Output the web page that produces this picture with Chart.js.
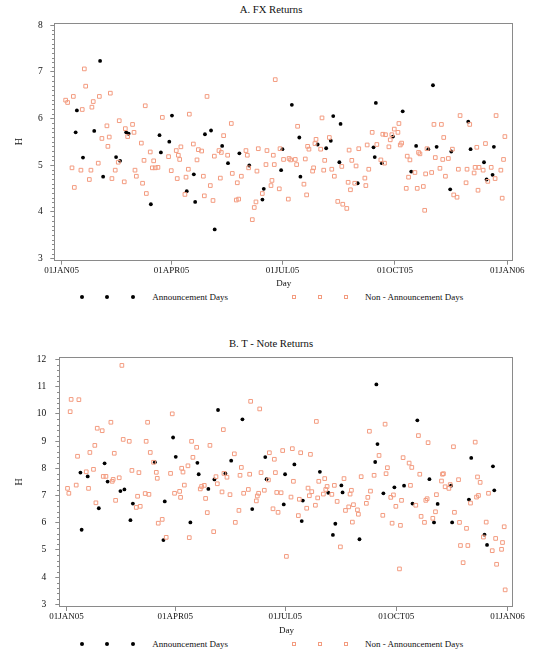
<!DOCTYPE html>
<html>
<head>
<meta charset="utf-8">
<script src="https://cdn.jsdelivr.net/npm/chart.js@4.4.1/dist/chart.umd.min.js"></script>
<style>
  html, body { margin: 0; padding: 0; background: #fff; }
  body { width: 542px; height: 660px; position: relative; overflow: hidden;
         font-family: "Liberation Serif", "DejaVu Serif", serif; color: #111; }
  .box { position: absolute; left: 0; width: 542px; }
  .title { position: absolute; left: 0; width: 542px; text-align: center;
           font-size: 10.7px; height: 13px; line-height: 13px; }
  .dot { position: absolute; width: 4px; height: 4px; border-radius: 50%; background: #000; }
  .sq { position: absolute; width: 4px; height: 4px; box-sizing: border-box; border: 1px solid #f39c80; }
  .ltxt { position: absolute; font-size: 9px; height: 12px; line-height: 12px; white-space: nowrap; }
</style>
</head>
<body>
<div class="title" style="top:3px;">A. FX Returns</div>
<div class="box" style="top:0px;height:290px;"><canvas id="chartA"></canvas></div>
<div id="legA"></div>

<div class="title" style="top:337px;">B. T - Note Returns</div>
<div class="box" style="top:330px;height:306px;"><canvas id="chartB"></canvas></div>
<div id="legB"></div>

<script>
// ---------------- data ----------------
// x = day offset from 01JAN05
const xTickDays = [0, 90, 181, 273, 365];
const xTickLabels = ['01JAN05', '01APR05', '01JUL05', '01OCT05', '01JAN06'];
const fxYTicks = [3, 4, 5, 6, 7, 8];
const tnYTicks = [3, 4, 5, 6, 7, 8, 9, 10, 11, 12];

const annDays = [11.5, 12.5, 17.5, 26.7, 31.5, 34, 44.6, 47.9, 52.9, 54.9,
  73.1, 80.2, 81.3, 88.2, 90.4, 102.5, 108.3, 109.4, 117.4, 122.4,
  125.4, 131.5, 136.3, 145.6, 153.7, 164.5, 165.6, 179.8, 180.9, 188.6,
  194.7, 195.6, 209.7, 216.7, 220.5, 222.5, 227.5, 228.5, 242.5, 255.5,
  256.5, 257.4, 262.3, 271.4, 279.4, 286.4, 290.4, 300.4, 304.2, 307.2,
  318.3, 319.2, 333.1, 335, 346, 348.1, 353, 354.1];

const fxAnnH = [5.70, 6.17, 5.16, 5.73, 7.23, 4.75, 5.17, 5.09, 5.70, 5.67,
  4.16, 5.64, 5.27, 5.50, 6.06, 4.44, 4.80, 4.21, 5.66, 5.74,
  3.62, 5.41, 5.04, 5.25, 4.99, 4.26, 4.49, 4.89, 5.34, 6.29,
  5.59, 4.75, 5.44, 5.36, 5.52, 6.05, 5.06, 5.88, 4.61, 5.38,
  5.17, 6.33, 5.04, 5.61, 6.15, 4.86, 5.41, 5.34, 6.71, 5.39,
  4.48, 5.29, 5.93, 5.34, 5.06, 4.69, 4.79, 5.39];

const tnAnnH = [7.84, 5.74, 7.70, 6.53, 8.18, 7.51, 7.16, 7.22, 6.09, 6.70,
  8.22, 5.36, 6.78, 9.13, 8.42, 6.01, 8.20, 7.78, 7.24, 7.59,
  10.14, 7.81, 8.28, 9.80, 6.50, 8.41, 7.60, 6.67, 7.78, 8.14,
  6.06, 6.81, 7.87, 7.10, 5.55, 5.96, 7.37, 7.11, 5.39, 8.23,
  11.08, 8.89, 7.08, 7.30, 7.36, 6.70, 9.76, 7.60, 6.01, 6.69,
  7.36, 6.01, 6.85, 8.38, 5.56, 5.18, 8.07, 7.19];

const fxNonDays = [3.3, 4.9, 8.5, 9.6, 10.4, 15.8, 16.9, 18.6, 19.7, 22.7,
  24.0, 24.8, 25.9, 30.0, 30.9, 33.0, 37.1, 37.9, 39.0, 39.9,
  41.2, 43.9, 46.4, 47.2, 51.3, 52.2, 54.1, 58.1, 59.3, 60.1,
  61.2, 65.3, 66.3, 67.5, 68.5, 69.4, 72.6, 74.3, 75.4, 76.7,
  78.9, 82.5, 87.6, 89.8, 93.9, 94.7, 95.6, 96.7, 97.7, 101.0,
  101.9, 103.8, 104.6, 107.9, 110.9, 112.0, 114.7, 116.1, 116.9, 119.1,
  121.8, 124.0, 125.1, 128.9, 130.0, 130.8, 132.7, 136.0, 139.0, 139.8,
  143.1, 143.9, 145.0, 147.2, 151.0, 152.1, 153.2, 156.2, 157.8, 159.2,
  160.0, 161.1, 164.4, 167.4, 168.2, 171.5, 172.3, 173.4, 174.2, 175.0,
  178.3, 178.9,
  181.8, 185.7, 186.3, 187.6, 191.4, 192.5, 193.3, 198.5, 199.6, 200.7,
  201.5, 202.6, 205.6, 206.4, 207.5, 208.4, 212.2, 213.3, 214.7, 215.5,
  219.3, 221.3, 223.4, 226.2, 229.5, 230.3, 233.6, 234.7, 235.5, 236.6,
  237.7, 240.1, 241.2, 243.4, 248.4, 249.2, 250.3, 251.6, 254.4, 258.2,
  261.5, 263.1, 264.5, 265.3, 268.1, 269.2, 270.5, 272.5, 275.5, 276.3,
  277.4, 278.5, 282.3, 283.1, 284.2, 285.3, 289.4, 291.3, 292.4, 293.5,
  296.3, 297.4, 298.2, 299.3, 303.1, 305.0, 306.1, 309.9, 311.1, 312.2,
  313.0, 314.4, 316.8, 320.1, 321.2, 323.9, 325.0, 326.4, 331.3, 332.1,
  334.3, 337.9, 338.7, 340.1, 341.1, 341.9, 345.3, 347.2, 349.1, 351.9,
  355.1, 355.9, 359.8, 360.9, 362.0, 363.1];

const fxNonH = [6.39, 6.34, 4.94, 6.47, 4.52, 4.89, 6.19, 7.06, 6.69, 4.69,
  4.89, 6.24, 6.36, 5.04, 6.47, 5.57, 5.84, 5.40, 5.60, 6.54,
  4.71, 4.89, 5.06, 5.95, 4.64, 5.78, 5.61, 5.87, 5.70, 4.89,
  4.76, 5.47, 4.61, 5.10, 6.27, 4.39, 5.28, 4.94, 5.09, 4.94,
  4.95, 6.02, 5.18, 4.88, 5.31, 4.71, 5.21, 5.12, 5.39, 4.37,
  4.74, 4.91, 6.09, 5.45, 5.11, 5.33, 5.30, 4.76, 4.34, 6.47,
  4.56, 4.24, 5.19, 5.31, 4.72, 5.27, 5.63, 5.21, 5.89, 4.82,
  4.25, 4.62, 4.27, 4.76, 5.31, 5.21, 4.94, 3.83, 4.09, 4.21,
  4.87, 5.35, 4.39, 5.01, 5.31, 4.56, 4.67, 5.21, 5.01, 6.83,
  4.49, 5.35,
  5.12, 4.27, 5.14, 5.11, 5.12, 5.01, 5.83, 4.59, 5.13, 4.36,
  5.40, 5.34, 4.87, 4.94, 5.46, 5.55, 5.34, 6.01, 4.89, 5.10,
  5.59, 4.91, 4.76, 4.22, 4.97, 4.16, 4.07, 4.63, 5.32, 4.47,
  5.10, 4.61, 4.98, 5.35, 4.72, 4.56, 5.43, 4.91, 5.70, 5.44,
  5.11, 5.66, 5.04, 5.65, 5.39, 5.54, 5.65, 5.77, 5.70, 5.89,
  5.43, 5.47, 4.50, 5.19, 4.74, 5.11, 4.84, 4.50, 5.27, 5.24,
  4.54, 4.03, 4.81, 5.35, 4.84, 5.87, 5.16, 4.93, 5.87, 5.12,
  5.59, 4.76, 5.14, 5.34, 4.36, 4.31, 4.91, 6.06, 4.62, 4.91,
  5.87, 4.83, 4.95, 5.38, 4.46, 4.95, 4.89, 5.46, 4.65, 4.95,
  4.71, 6.06, 4.89, 4.29, 5.12, 5.61];

const tnNonDays = [0.8, 1.9, 3.0, 3.8, 8.0, 9.1, 10.2, 16.3, 18.2, 19.3,
  22.3, 23.4, 24.3, 25.4, 29.5, 30.4, 32.6, 36.7, 37.8, 38.6,
  39.5, 40.6, 43.6, 45.8, 46.9, 51.9, 54.1, 57.7, 58.8, 59.9,
  61.0, 65.1, 65.9, 67.1, 68.2, 69.3, 72.0, 74.3, 75.1, 75.9,
  79.2, 82.5, 86.1, 87.5, 89.4, 93.6, 94.4, 95.3, 96.4, 97.5,
  100.5, 101.6, 103.5, 104.6, 107.7, 110.7, 111.8, 114.0, 115.1, 116.5,
  118.7, 121.8, 123.7, 124.8, 128.7, 129.8, 130.3, 132.8, 135.3, 138.9,
  139.7, 142.7, 143.6, 144.7, 146.6, 150.5, 151.6, 152.4, 157.1, 157.9,
  159.0, 159.9, 161.0, 163.7, 167.1, 167.9, 170.9, 172.0, 172.9, 174.0,
  175.1, 177.6, 178.9,
  182.0, 185.8, 186.9, 187.8, 191.9, 192.7, 193.8, 198.8, 199.9, 201.0,
  201.9, 203.0, 206.0, 206.8, 207.9, 208.8, 212.6, 213.7, 214.6, 215.7,
  219.6, 221.7, 224.0, 226.7, 229.7, 230.9, 233.6, 234.7, 235.8, 236.6,
  237.5, 240.8, 241.6, 243.9, 248.2, 249.4, 250.7, 251.6, 254.6, 258.7,
  261.8, 263.7, 264.5, 265.6, 268.4, 269.5, 270.6, 272.6, 275.6, 276.4,
  277.3, 278.6, 283.6, 284.7, 285.8, 289.1, 291.3, 292.4, 293.5, 296.3,
  297.4, 298.5, 299.3, 303.2, 305.4, 306.2, 310.4, 311.2, 312.0, 313.4,
  316.5, 317.6, 320.3, 321.1, 324.5, 325.3, 326.1, 328.3, 331.1, 332.2,
  334.4, 338.3, 339.4, 340.2, 341.0, 342.4, 345.1, 347.4, 349.3, 352.4,
  355.2, 356.0, 360.1, 360.9, 362.3, 363.1];

const tnNonH = [7.26, 7.08, 10.08, 10.53, 7.38, 8.44, 10.52, 7.87, 7.26, 8.58,
  7.96, 8.84, 6.73, 9.47, 9.38, 7.70, 7.70, 9.69, 7.52, 7.59,
  8.55, 6.82, 7.65, 11.78, 9.06, 8.99, 7.92, 6.56, 6.97, 7.84,
  6.60, 7.07, 8.99, 9.69, 7.04, 8.58, 8.22, 7.85, 7.63, 5.98,
  6.12, 5.46, 7.81, 10.00, 7.08, 7.15, 6.93, 8.00, 7.86, 7.38,
  8.09, 5.45, 8.99, 8.40, 8.77, 7.24, 7.33, 7.37, 6.89, 6.37,
  8.84, 5.67, 7.69, 7.43, 7.13, 9.42, 7.81, 7.67, 7.03, 8.53,
  6.01, 6.45, 7.74, 8.03, 7.08, 7.22, 7.78, 10.46, 6.80, 6.98,
  7.08, 10.18, 7.84, 7.19, 7.57, 8.57, 6.51, 8.33, 7.84, 7.11,
  6.38, 7.10, 8.65,
  4.76, 6.94, 8.72, 7.52, 6.26, 6.86, 8.57, 6.53, 7.27, 6.99,
  8.51, 7.14, 6.64, 9.72, 6.91, 7.52, 7.05, 7.62, 7.22, 7.33,
  7.04, 7.37, 6.78, 5.11, 7.62, 6.45, 6.58, 7.05, 7.19, 6.02,
  6.66, 6.47, 6.31, 7.69, 6.71, 6.93, 9.36, 7.16, 7.74, 8.47,
  6.27, 9.62, 7.80, 8.02, 6.93, 5.98, 7.02, 6.60, 4.30, 5.90,
  6.82, 8.39, 8.19, 7.37, 8.03, 6.64, 9.20, 7.78, 6.23, 6.01,
  6.82, 6.88, 8.94, 6.16, 6.40, 7.03, 7.53, 7.78, 7.80, 7.32,
  7.26, 7.40, 8.79, 6.38, 7.58, 6.01, 5.16, 4.53, 5.79, 5.16,
  6.72, 8.96, 6.94, 7.68, 7.00, 7.48, 5.47, 6.02, 7.08, 4.97,
  5.42, 4.47, 5.02, 5.27, 5.85, 3.53];

// ---------------- styling ----------------
const AXIS = '#8a8a8a';
const TXT = '#111';
const ORANGE = '#f39c80';
const FONT = '"Liberation Serif", "DejaVu Serif", serif';

const framePlugin = {
  id: 'frame',
  afterDatasetsDraw(chart) {
    const a = chart.chartArea, ctx = chart.ctx;
    ctx.save();
    ctx.strokeStyle = AXIS;
    ctx.lineWidth = 1;
    ctx.strokeRect(Math.round(a.left) + 0.5, Math.round(a.top) + 0.5,
                   Math.round(a.right - a.left) - 1, Math.round(a.bottom - a.top) - 1);
    ctx.restore();
  }
};

const minorTickPlugin = {
  id: 'minorTicks',
  afterDraw(chart, args, opts) {
    const y = chart.scales.y, ctx = chart.ctx;
    const step = opts.step;
    if (!step) return;
    const lo = Math.ceil(y.min / step), hi = Math.floor(y.max / step);
    const x0 = Math.round(chart.chartArea.left) + 0.5;
    ctx.save();
    ctx.strokeStyle = AXIS;
    ctx.lineWidth = 1;
    ctx.beginPath();
    for (let k = lo; k <= hi; k++) {
      const v = k * step;
      if (Math.abs(v - Math.round(v)) < 1e-6) continue;
      const py = Math.round(y.getPixelForValue(v)) + 0.5;
      ctx.moveTo(x0 - 2.5, py);
      ctx.lineTo(x0, py);
    }
    ctx.stroke();
    ctx.restore();
  }
};

function pts(xs, ys) { return xs.map((x, i) => ({ x: x, y: ys[i] })); }

function makeChart(id, c) {
  return new Chart(document.getElementById(id), {
    type: 'scatter',
    data: {
      datasets: [
        { label: 'Non - Announcement Days', data: pts(c.nonDays, c.nonH),
          pointStyle: 'rect', pointRadius: 2.6, pointBorderWidth: 1,
          borderColor: ORANGE, backgroundColor: 'rgba(0,0,0,0)', pointHoverRadius: 2.6 },
        { label: 'Announcement Days', data: pts(annDays, c.annH),
          pointStyle: 'circle', pointRadius: 1.9, pointBorderWidth: 0,
          borderColor: '#000', backgroundColor: '#000', pointHoverRadius: 1.9 }
      ]
    },
    options: {
      responsive: true,
      maintainAspectRatio: false,
      animation: false,
      events: [],
      layout: { padding: { left: 0, right: c.padRight, top: c.padTop, bottom: 0 } },
      plugins: {
        legend: { display: false },
        title: { display: false },
        tooltip: { enabled: false },
        minorTicks: { step: c.minorStep }
      },
      scales: {
        x: {
          type: 'linear', position: 'bottom', min: -6, max: 370,
          afterBuildTicks: s => { s.ticks = xTickDays.map(v => ({ value: v })); },
          afterFit: s => { s.height = c.xAxisHeight; },
          ticks: { autoSkip: false, maxRotation: 0, minRotation: 0, padding: 0.6,
                   color: TXT, font: { family: FONT, size: 9, lineHeight: 1.2 },
                   callback: (v, i) => xTickLabels[i] },
          grid: { display: true, drawOnChartArea: false, drawTicks: true,
                  tickLength: 4, tickColor: AXIS, tickWidth: 1 },
          border: { display: false },
          title: { display: true, text: 'Day', color: TXT,
                   font: { family: FONT, size: 9, lineHeight: 1.2 },
                   padding: { top: 0, bottom: c.xTitlePad } }
        },
        y: {
          type: 'linear', position: 'left', min: c.yMin, max: c.yMax,
          afterBuildTicks: s => { s.ticks = c.yTicks.map(v => ({ value: v })); },
          afterFit: s => { s.width = c.yAxisWidth; },
          ticks: { padding: c.yLabelPad, color: TXT,
                   font: { family: FONT, size: 9.5, lineHeight: 1.2 },
                   callback: v => String(v) },
          grid: { display: true, drawOnChartArea: false, drawTicks: true,
                  tickLength: 4, tickColor: AXIS, tickWidth: 1 },
          border: { display: false },
          title: { display: true, text: 'H', color: TXT,
                   font: { family: FONT, size: 10, lineHeight: 1.2 },
                   padding: { top: 13.3, bottom: 0 } }
        }
      }
    },
    plugins: [framePlugin, minorTickPlugin]
  });
}

makeChart('chartA', {
  annH: fxAnnH, nonDays: fxNonDays, nonH: fxNonH,
  yMin: 2.95, yMax: 8.05, yTicks: fxYTicks, minorStep: 0.1,
  yAxisWidth: 54.3, padTop: 22.7, padRight: 28.7, xAxisHeight: 29.3,
  xTitlePad: 0.6, yLabelPad: 7.5
});

makeChart('chartB', {
  annH: tnAnnH, nonDays: tnNonDays, nonH: tnNonH,
  yMin: 2.9, yMax: 12.1, yTicks: tnYTicks, minorStep: 0.2,
  yAxisWidth: 59.3, padTop: 26.7, padRight: 28.5, xAxisHeight: 29,
  xTitlePad: 0, yLabelPad: 9
});

// ---------------- HTML legends ----------------
function buildLegend(el, yc) {
  const dotsX = [81.7, 107.3, 133];
  const sqX = [294.3, 320, 345.7];
  let html = '';
  dotsX.forEach(x => { html += `<span class="dot" style="left:${x - 2}px;top:${yc - 2}px;"></span>`; });
  html += `<span class="ltxt" style="left:152.3px;top:${yc - 6.5}px;">Announcement Days</span>`;
  sqX.forEach(x => { html += `<span class="sq" style="left:${x - 2}px;top:${yc - 2}px;"></span>`; });
  html += `<span class="ltxt" style="left:365px;top:${yc - 6.5}px;">Non - Announcement Days</span>`;
  el.innerHTML = html;
}
buildLegend(document.getElementById('legA'), 297.3);
buildLegend(document.getElementById('legB'), 644);
</script>
</body>
</html>
